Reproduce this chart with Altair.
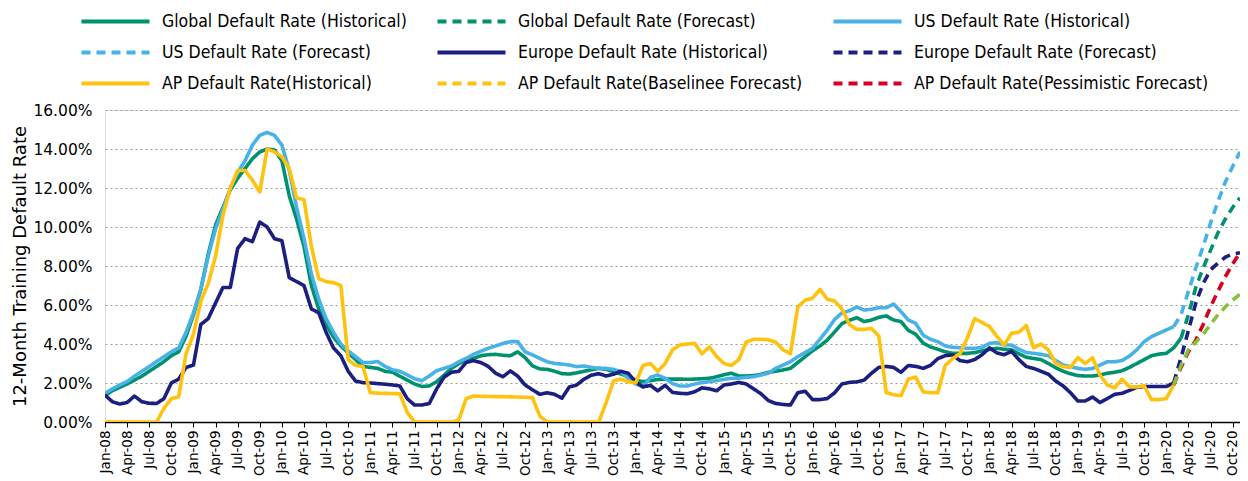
import json
import altair as alt
import pandas as pd

# ---------------- data (percent, monthly from Jan-08, index 0) ----------------
tick_labels = [
    "Jan-08", "Apr-08", "Jul-08", "Oct-08", "Jan-09", "Apr-09", "Jul-09", "Oct-09",
    "Jan-10", "Apr-10", "Jul-10", "Oct-10", "Jan-11", "Apr-11", "Jul-11", "Oct-11",
    "Jan-12", "Apr-12", "Jul-12", "Oct-12", "Jan-13", "Apr-13", "Jul-13", "Oct-13",
    "Jan-14", "Apr-14", "Jul-14", "Oct-14", "Jan-15", "Apr-15", "Jul-15", "Oct-15",
    "Jan-16", "Apr-16", "Jul-16", "Oct-16", "Jan-17", "Apr-17", "Jul-17", "Oct-17",
    "Jan-18", "Apr-18", "Jul-18", "Oct-18", "Jan-19", "Apr-19", "Jul-19", "Oct-19",
    "Jan-20", "Apr-20", "Jul-20", "Oct-20",
]

series_names = [
    "Global Default Rate (Historical)", "Global Default Rate (Forecast)", "US Default Rate (Historical)",
    "US Default Rate (Forecast)", "Europe Default Rate (Historical)", "Europe Default Rate (Forecast)",
    "AP Default Rate(Historical)", "AP Default Rate(Baselinee Forecast)", "AP Default Rate(Pessimistic Forecast)",
]
series_colors = ["#00916E", "#00916E", "#48B2E7", "#48B2E7", "#1B1F7F", "#1B1F7F",
                 "#FFC20E", "#FFC20E", "#D9001F"]
baseline_line_color = "#84C13F"

global_hist = [
    1.38, 1.6, 1.78, 1.95, 2.15, 2.35, 2.6, 2.85, 3.1, 3.4,
    3.6, 4.4, 5.5, 6.8, 8.6, 10.1, 11.0, 11.9, 12.5, 13.0,
    13.5, 13.85, 14.0, 13.95, 13.4, 11.6, 10.4, 9.0, 7.0, 5.8,
    5.0, 4.35, 3.9, 3.55, 3.2, 2.85, 2.8, 2.75, 2.6, 2.55,
    2.35, 2.15, 1.95, 1.82, 1.85, 2.07, 2.4, 2.75, 3.0, 3.18,
    3.26, 3.4, 3.45, 3.47, 3.42, 3.4, 3.6, 3.3, 2.88, 2.72,
    2.7, 2.6, 2.48, 2.46, 2.52, 2.6, 2.68, 2.75, 2.7, 2.58,
    2.46, 2.32, 2.15, 2.07, 2.12, 2.18, 2.2, 2.2, 2.2, 2.19,
    2.2, 2.22, 2.24, 2.32, 2.43, 2.5, 2.36, 2.36, 2.38, 2.44,
    2.55, 2.6, 2.67, 2.75, 3.05, 3.35, 3.65, 3.9, 4.2, 4.62,
    5.05, 5.22, 5.35, 5.15, 5.23, 5.37, 5.44, 5.23, 5.15, 4.7,
    4.5, 4.05, 3.85, 3.73, 3.6, 3.52, 3.52, 3.52, 3.56, 3.65,
    3.72, 3.78, 3.73, 3.7, 3.5, 3.32, 3.26, 3.2, 3.0, 2.78,
    2.6, 2.47, 2.38, 2.36, 2.36, 2.41, 2.5, 2.55, 2.63, 2.8,
    3.0, 3.2, 3.4, 3.48, 3.52, 3.8, 4.3,
]
global_fc = [4.3, 5.5, 6.9, 7.9, 8.8, 9.7, 10.4, 11.0, 11.5]          # from index 146

us_hist = [
    1.47, 1.7, 1.9, 2.07, 2.35, 2.6, 2.84, 3.1, 3.35, 3.6,
    3.8, 4.6, 5.6, 6.8, 8.5, 9.9, 10.9, 12.0, 12.8, 13.4,
    14.2, 14.7, 14.85, 14.7, 14.2, 12.9, 11.0, 9.4, 7.6, 6.3,
    5.3, 4.6, 4.0, 3.65, 3.35, 3.05, 3.05, 3.1, 2.85, 2.68,
    2.6, 2.42, 2.22, 2.12, 2.36, 2.63, 2.75, 2.87, 3.09, 3.26,
    3.47, 3.63, 3.78, 3.9, 4.03, 4.12, 4.12, 3.6, 3.44, 3.26,
    3.09, 3.0, 2.97, 2.92, 2.84, 2.87, 2.8, 2.75, 2.75, 2.7,
    2.58, 2.24, 1.95, 1.81, 2.29, 2.41, 2.24, 1.97, 1.85, 1.85,
    1.95, 2.02, 2.07, 2.12, 2.19, 2.24, 2.24, 2.29, 2.32, 2.41,
    2.5, 2.75, 2.92, 3.09, 3.35, 3.56, 3.78, 4.24, 4.72, 5.26,
    5.6, 5.7, 5.9, 5.74, 5.78, 5.86, 5.86, 6.05, 5.66, 5.23,
    5.06, 4.46, 4.24, 4.12, 3.9, 3.83, 3.81, 3.78, 3.78, 3.83,
    4.03, 4.07, 3.95, 3.95, 3.73, 3.56, 3.52, 3.47, 3.4, 3.15,
    2.92, 2.84, 2.75, 2.7, 2.75, 2.92, 3.09, 3.09, 3.15, 3.38,
    3.7, 4.12, 4.38, 4.55, 4.72, 4.89,
]
us_fc = [4.89, 5.5, 6.7, 7.9, 9.0, 10.2, 11.3, 12.3, 13.1, 13.85]   # from index 145

europe_hist = [
    1.38, 1.04, 0.92, 1.0, 1.33, 1.04, 0.96, 0.95, 1.2, 2.0,
    2.2, 2.8, 2.92, 5.0, 5.3, 6.1, 6.9, 6.9, 8.9, 9.4,
    9.25, 10.25, 10.0, 9.4, 9.3, 7.4, 7.2, 7.0, 5.8, 5.6,
    4.6, 3.8, 3.4, 2.6, 2.1, 2.02, 2.0, 1.97, 1.94, 1.9,
    1.85, 1.2, 0.87, 0.87, 0.95, 1.7, 2.3, 2.55, 2.6, 3.05,
    3.15, 3.05, 2.85, 2.5, 2.32, 2.62, 2.35, 1.9, 1.65, 1.42,
    1.5, 1.42, 1.22, 1.8, 1.9, 2.2, 2.4, 2.48, 2.36, 2.45,
    2.6, 2.5, 2.05, 1.8, 1.88, 1.6, 1.88, 1.52, 1.47, 1.45,
    1.55, 1.75, 1.7, 1.6, 1.9, 1.95, 2.03, 1.95, 1.7, 1.45,
    1.1, 0.95, 0.9, 0.87, 1.5, 1.58, 1.15, 1.15, 1.2, 1.5,
    1.95, 2.03, 2.06, 2.15, 2.5, 2.8, 2.85, 2.8, 2.55, 2.9,
    2.85, 2.75, 2.9, 3.25, 3.4, 3.44, 3.15, 3.09, 3.2, 3.45,
    3.8, 3.55, 3.45, 3.62, 3.2, 2.85, 2.75, 2.6, 2.45, 2.1,
    1.85, 1.5, 1.08, 1.08, 1.28, 1.0, 1.2, 1.42, 1.47, 1.62,
    1.78, 1.82, 1.82, 1.82, 1.82, 2.0,
]
europe_fc = [2.0, 3.3, 4.7, 6.1, 7.1, 7.8, 8.15, 8.45, 8.62, 8.68]  # from index 145

ap_hist = [
    0.0, 0.0, 0.0, 0.0, 0.0, 0.0, 0.0, 0.0, 0.7, 1.2,
    1.3, 3.5, 4.5, 6.2, 7.1, 8.5, 10.6, 12.0, 12.9, 12.9,
    12.4, 11.8, 14.0, 13.85, 13.6, 13.0, 11.5, 11.4, 9.0, 7.35,
    7.2, 7.15, 7.0, 3.2, 2.9, 2.85, 1.5, 1.48, 1.47, 1.46,
    1.45, 0.5, 0.0, 0.0, 0.0, 0.0, 0.0, 0.0, 0.1, 1.2,
    1.33, 1.32, 1.31, 1.3, 1.3, 1.29, 1.28, 1.27, 1.25, 0.3,
    0.0, 0.0, 0.0, 0.0, 0.0, 0.0, 0.0, 0.0, 1.0, 2.1,
    2.2, 2.07, 2.0, 2.9, 3.0, 2.6, 3.0, 3.7, 3.95, 4.0,
    4.03, 3.5, 3.85, 3.35, 3.0, 2.9, 3.2, 4.1, 4.24, 4.24,
    4.22, 4.1, 3.7, 3.5, 5.9, 6.25, 6.35, 6.8, 6.3, 6.2,
    5.8, 5.0, 4.75, 4.75, 4.8, 4.4, 1.5, 1.4, 1.35, 2.2,
    2.3, 1.55, 1.5, 1.5, 2.9, 3.25, 3.5, 4.3, 5.3, 5.1,
    4.9, 4.4, 3.95, 4.55, 4.6, 4.95, 3.8, 4.0, 3.7, 3.0,
    2.84, 2.8, 3.3, 3.0, 3.3, 2.4, 1.9, 1.75, 2.2, 1.8,
    1.8, 1.85, 1.15, 1.15, 1.2, 1.9,
]
ap_base_fc = [1.9, 2.9, 3.7, 4.1, 4.5, 5.0, 5.5, 5.9, 6.25, 6.55]  # from index 145
ap_pess_fc = [1.9, 2.8, 3.6, 4.2, 5.0, 5.9, 6.7, 7.45, 8.1, 8.7]   # from index 145

# ---------------- table ----------------
series_values = [
    (series_names[0], 0, global_hist), (series_names[1], 146, global_fc),
    (series_names[2], 0, us_hist), (series_names[3], 145, us_fc),
    (series_names[4], 0, europe_hist), (series_names[5], 145, europe_fc),
    (series_names[6], 0, ap_hist), (series_names[8], 145, ap_pess_fc),
]
rows = []
for k, (name, start, vals) in enumerate(series_values):
    for j, v in enumerate(vals):
        rows.append({"series": name, "t": start + j, "v": v})
df_main = pd.DataFrame(rows)
df_base = pd.DataFrame({"t": [145 + j for j in range(len(ap_base_fc))], "v": ap_base_fc})

solid = [1, 0]
dash = [9, 6]
dash_range = [solid, dash, solid, dash, solid, dash, solid, dash, dash]

label_expr = json.dumps(tick_labels) + "[round(datum.value / 3)]"

x_axis = alt.Axis(
    values=list(range(0, 154, 3)), labelExpr=label_expr, title=None, grid=False,
    labelAngle=-90, labelFontSize=13.5, labelFont="DejaVu Sans", labelColor="#000000",
    labelPadding=3, ticks=True, tickSize=5, tickColor="#000000", tickWidth=1,
    domain=True, domainColor="#000000", domainWidth=1.5, labelBound=False, labelOverlap=False,
)
y_axis = alt.Axis(
    values=[0, 2, 4, 6, 8, 10, 12, 14, 16],
    labelExpr="format(datum.value, '.2f') + '%'",
    title="12-Month Training Default Rate", titleFont="DejaVu Sans", titleFontSize=18,
    titleFontWeight="normal", titleColor="#000000", titlePadding=3,
    labelFont="DejaVu Sans", labelFontSize=15.5, labelColor="#000000", labelPadding=13,
    labelOverlap=False, ticks=False, domain=False, grid=True, gridDash=[2, 3],
    gridColor="#9a9a9a", gridWidth=1,
)
x_scale = alt.Scale(domain=[0, 154], nice=False, zero=False)
y_scale = alt.Scale(domain=[0, 16], nice=False, zero=True)

legend_font = ("Liberation Sans Narrow, Arial Narrow, DejaVu Sans Condensed, Noto Sans Condensed, "
               "Roboto Condensed, Open Sans Condensed, Liberation Sans, sans-serif")
# a long, flat line symbol: path spans 3x the nominal symbol size
legend = alt.Legend(
    title=None, orient="none", legendX=-3, legendY=-102, columns=3, direction="horizontal",
    columnPadding=22, rowPadding=9, symbolType="M-3,0H3", symbolSize=514, symbolStrokeWidth=4,
    labelFont=legend_font, labelFontSize=17.5, labelColor="#000000", labelOffset=33,
    labelLimit=0, padding=0,
)

lines = alt.Chart(df_main).mark_line(strokeWidth=3.6, clip=True, strokeJoin="round").encode(
    x=alt.X("t:Q", scale=x_scale, axis=x_axis),
    y=alt.Y("v:Q", scale=y_scale, axis=y_axis),
    color=alt.Color("series:N", scale=alt.Scale(domain=series_names, range=series_colors), legend=legend),
    strokeDash=alt.StrokeDash("series:N", scale=alt.Scale(domain=series_names, range=dash_range), legend=legend),
    order=alt.Order("t:Q"),
)

baseline = alt.Chart(df_base).mark_line(
    strokeWidth=3.6, clip=True, color=baseline_line_color, strokeDash=dash
).encode(
    x=alt.X("t:Q", scale=x_scale, axis=x_axis),
    y=alt.Y("v:Q", scale=y_scale, axis=y_axis),
)

chart = alt.layer(lines, baseline).properties(
    width=1135, height=312,
    autosize=alt.AutoSizeParams(type="none"),
    padding={"left": 97, "top": 102, "right": 0, "bottom": 58},
).configure_view(stroke=None).configure(background="white")

chart.save("out.html", embed_options={"renderer": "svg", "actions": False})
